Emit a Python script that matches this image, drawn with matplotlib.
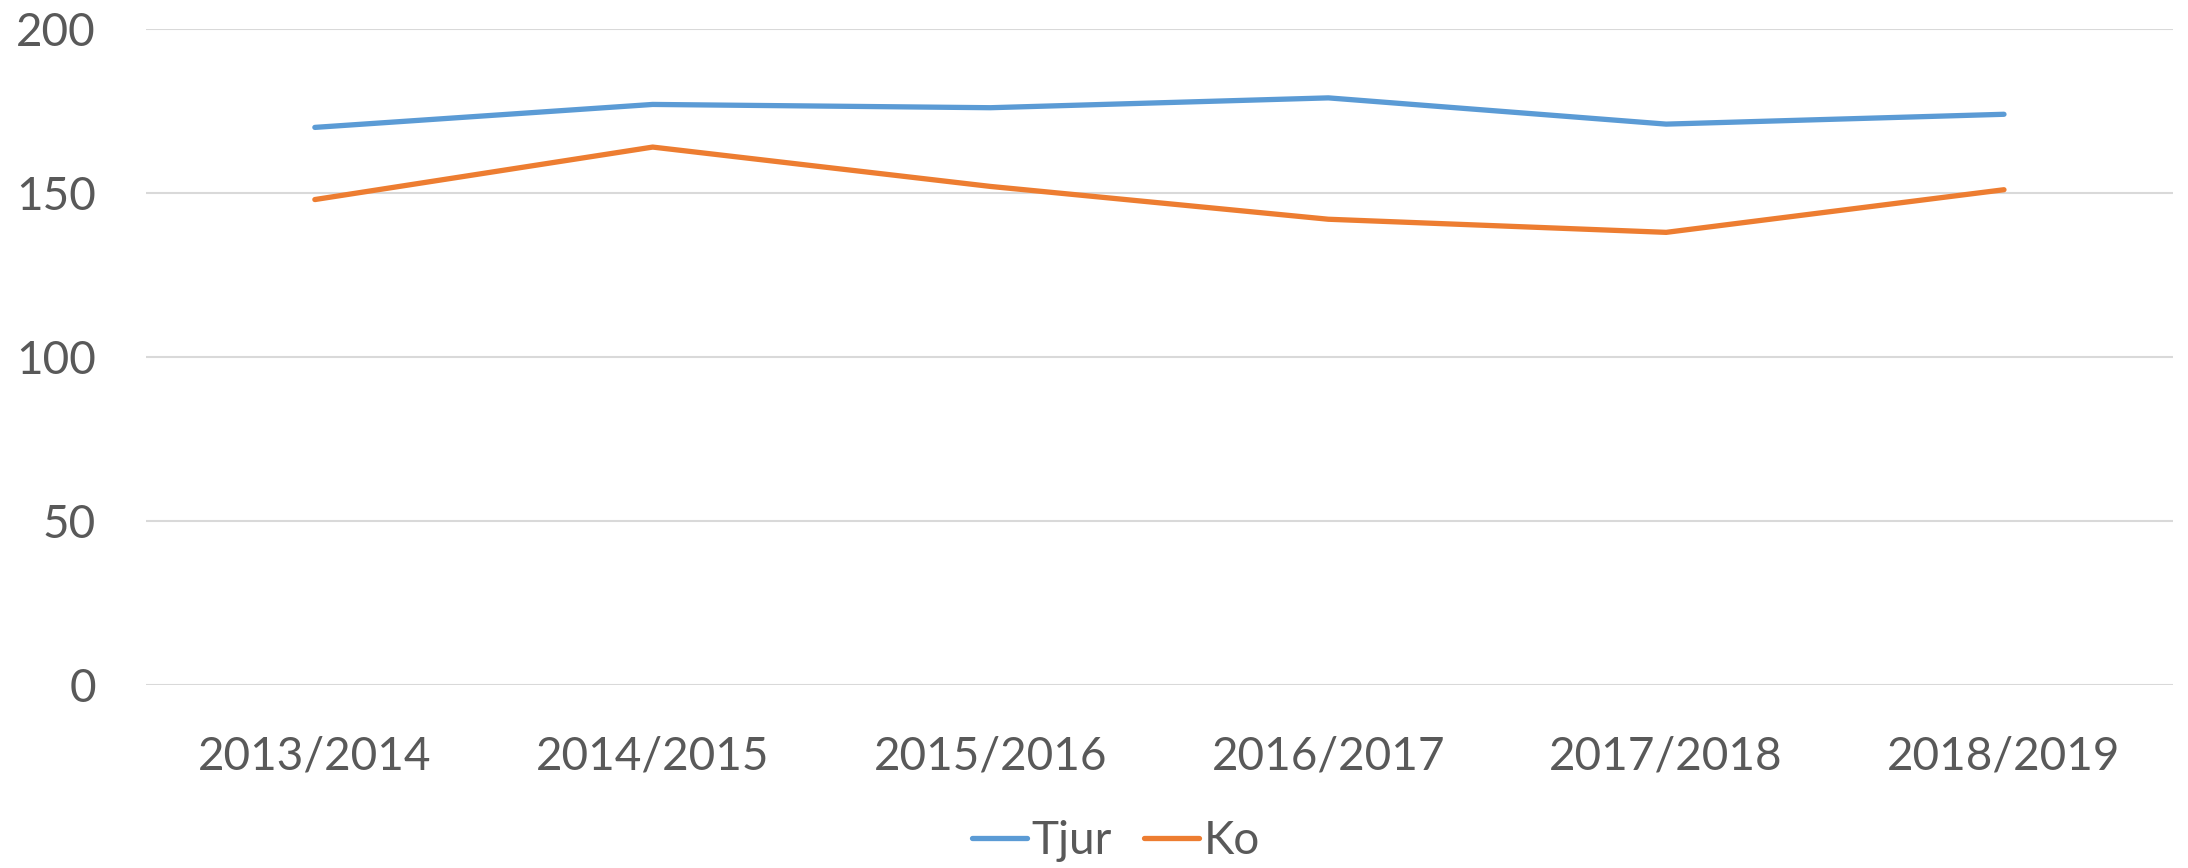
import matplotlib.pyplot as plt

## data
seasons = ["2013/2014", "2014/2015", "2015/2016", "2016/2017", "2017/2018", "2018/2019"]
tjur = [170, 177, 176, 179, 171, 174]
ko = [148, 164, 152, 142, 138, 151]
yticks = [0, 50, 100, 150, 200]

## style
plt.rcParams['font.family'] = ['Lato', 'DejaVu Sans']
text_color = "#595959"
grid_color = "#D9D9D9"

fig = plt.figure(figsize=(21.88, 8.68), dpi=100)
ax = fig.add_axes([0.0667, 0.2108, 0.9264, 0.7558])

x = list(range(len(seasons)))
ax.plot(x, tjur, color="#5B9BD5", lw=3.8, solid_capstyle="round", label="Tjur")
ax.plot(x, ko, color="#ED7D31", lw=3.8, solid_capstyle="round", label="Ko")

ax.set_xlim(-0.5, len(seasons) - 0.5)
ax.set_ylim(0, 200)
ax.set_yticks(yticks)
ax.set_xticks(x)
ax.set_xticklabels(seasons)
ax.grid(axis="y", color=grid_color, lw=1.5)
ax.set_axisbelow(True)
for s in ax.spines.values():
    s.set_visible(False)
ax.tick_params(axis="both", length=0, labelsize=33, labelcolor=text_color)
ax.tick_params(axis="y", pad=36)
ax.tick_params(axis="x", pad=36)

fig.legend(loc="center", bbox_to_anchor=(0.51, 0.031), ncol=2, frameon=False,
           fontsize=33, labelcolor=text_color, handlelength=1.2, handletextpad=0.1,
           columnspacing=0.7)

fig.savefig("out.png", dpi=100)
